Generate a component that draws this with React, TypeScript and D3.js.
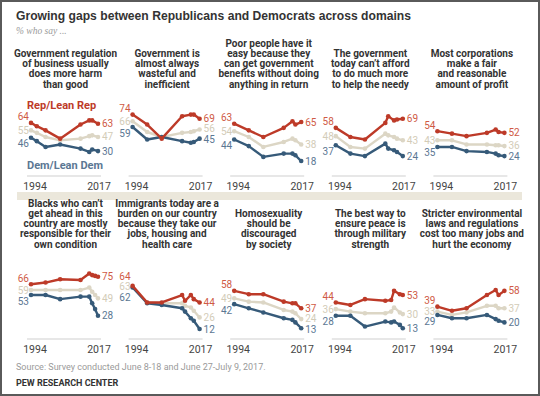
import * as d3 from "d3";

// panel titles, row by row
const panelTitles: string[][] = [
  ["Government regulation", "of business usually", "does more harm", "than good"],
  ["Government is", "almost always", "wasteful and", "inefficient"],
  ["Poor people have it", "easy because they", "can get government", "benefits without doing", "anything in return"],
  ["The government", "today can\u2019t afford", "to do much more", "to help the needy"],
  ["Most corporations", "make a fair", "and reasonable", "amount of profit"],
  ["Blacks who can\u2019t", "get ahead in this", "country are mostly", "responsible for their", "own condition"],
  ["Immigrants today are a", "burden on our country", "because they take our", "jobs, housing and", "health care"],
  ["Homosexuality", "should be", "discouraged", "by society"],
  ["The best way to", "ensure peace is", "through military", "strength"],
  ["Stricter environmental", "laws and regulations", "cost too many jobs and", "hurt the economy"],
];

const panelYears: number[][] = [
  [1994, 1996, 1999, 2004, 2011, 2014, 2015, 2017],
  [1994, 1999, 2004, 2011, 2014, 2015, 2017],
  [1994, 1999, 2004, 2011, 2014, 2015, 2017],
  [1994, 1999, 2004, 2011, 2012, 2014, 2015, 2017],
  [1994, 1999, 2004, 2011, 2014, 2015, 2017],
  [1994, 1999, 2004, 2011, 2014, 2015, 2016, 2017],
  [1994, 1999, 2004, 2011, 2012, 2014, 2015, 2017],
  [1994, 1999, 2004, 2011, 2014, 2015, 2017],
  [1994, 1999, 2004, 2011, 2013, 2014, 2016, 2017],
  [1994, 1999, 2004, 2011, 2014, 2015, 2017],
];

const repValues: number[][] = [
  [64, 60, 55, 45, 62, 67, 67, 63],
  [74, 62, 45, 72, 74, 74, 69],
  [63, 55, 47, 58, 66, 62, 65],
  [58, 47, 44, 64, 72, 67, 68, 69],
  [54, 51, 48, 52, 56, 53, 52],
  [66, 68, 72, 71, 79, 77, 76, 75],
  [64, 44, 44, 53, 46, 53, 48, 44],
  [58, 54, 54, 45, 43, 43, 37],
  [44, 41, 48, 46, 47, 58, 54, 53],
  [39, 34, 37, 53, 59, 53, 58],
];

const demValues: number[][] = [
  [46, 42, 35, 38, 33, 29, 32, 30],
  [59, 44, 47, 42, 40, 41, 45],
  [44, 36, 23, 27, 27, 25, 18],
  [37, 27, 24, 39, 33, 31, 29, 24],
  [35, 35, 30, 29, 27, 25, 24],
  [53, 53, 48, 51, 51, 43, 36, 28],
  [62, 43, 41, 37, 33, 25, 22, 12],
  [42, 37, 32, 25, 23, 20, 13],
  [28, 28, 15, 21, 20, 21, 17, 13],
  [29, 25, 25, 29, 24, 22, 20],
];

const totalValues: number[][] = [
  [55, 52, 47, 43, 45, 48, 49, 47],
  [66, 53, 47, 52, 53, 54, 56],
  [54, 47, 35, 41, 45, 43, 38],
  [48, 35, 33, 51, 49, 47, 45, 43],
  [43, 43, 38, 38, 37, 37, 36],
  [59, 59, 59, 59, 62, 57, 53, 49],
  [63, 44, 43, 43, 40, 38, 34, 26],
  [49, 45, 44, 35, 33, 31, 24],
  [36, 33, 31, 31, 33, 38, 32, 30],
  [33, 29, 32, 40, 40, 37, 37],
];

const yearLabels = ["1994", "2017"];

const RED = "#bd3a28";
const BLUE = "#365a79";
const BEIGE = "#dcd6c5";
const RED_TXT = "#cf5a45";
const BLUE_TXT = "#5b7793";
const BEIGE_TXT = "#d3ccb8";

const FONT = "'Liberation Sans Narrow', 'Roboto', 'Liberation Sans', sans-serif";

const colStart = 31;
const colStep = 101.6;
const plotW = 67;
const rowBase = [176, 339];
const titleBottom = [87.5, 247.5];
const labelGap = 10.5;

// push label positions (top to bottom: rep, total, dem) apart
function spread(pos: number[]) {
  const p = pos.slice();
  for (let it = 0; it < 10; it++) {
    for (let k = 0; k < p.length - 1; k++) {
      const d = p[k + 1] - p[k];
      if (d < labelGap) {
        const m = (labelGap - d) / 2;
        p[k] -= m;
        p[k + 1] += m;
      }
    }
  }
  return p;
}

function Panel({ i }: { i: number }) {
  const col = i % 5;
  const row = Math.floor(i / 5);
  const x0 = colStart + colStep * col;
  const x = d3.scaleLinear().domain([1994, 2017]).range([x0, x0 + plotW]);
  const y = d3.scaleLinear().domain([0, 100]).range([rowBase[row], rowBase[row] - 83]);
  const years = panelYears[i];

  // drawing order: total, dem, rep
  const series = [
    { vals: totalValues[i], color: BEIGE, txt: BEIGE_TXT },
    { vals: demValues[i], color: BLUE, txt: BLUE_TXT },
    { vals: repValues[i], color: RED, txt: RED_TXT },
  ];

  const line = d3
    .line<number>()
    .x((_, k) => x(years[k]))
    .y((d) => y(d));

  const first = (v: number[]) => v[0];
  const last = (v: number[]) => v[v.length - 1];

  // label rows: rep, total, dem
  const startPos = spread([
    y(first(repValues[i])) - 6,
    y(first(totalValues[i])),
    y(first(demValues[i])) + 6,
  ]);
  const endPos = spread([
    y(last(repValues[i])),
    y(last(totalValues[i])),
    y(last(demValues[i])),
  ]);
  const labelSeries = [
    { vals: repValues[i], txt: RED_TXT },
    { vals: totalValues[i], txt: BEIGE_TXT },
    { vals: demValues[i], txt: BLUE_TXT },
  ];

  const title = panelTitles[i];
  const tx = x0 + plotW / 2 + 1;
  const lh = 10.1;

  return (
    <g>
      {title.map((t, k) => (
        <text
          key={k}
          x={tx}
          y={titleBottom[row] - (title.length - 1 - k) * lh}
          textAnchor="middle"
          fontSize={10}
          fontWeight="bold"
          fill="#333"
          fontFamily={FONT}
        >
          {t}
        </text>
      ))}

      <line
        x1={x0 - 4}
        x2={x0 + plotW + 3}
        y1={rowBase[row]}
        y2={rowBase[row]}
        stroke="#cfcfcf"
        strokeWidth={1}
      />
      <text x={x(1994) + 4} y={rowBase[row] + 13.5} textAnchor="middle" fontSize={10.5} fill="#444" fontFamily={FONT}>
        {yearLabels[0]}
      </text>
      <text x={x(2017) + 1} y={rowBase[row] + 13.5} textAnchor="middle" fontSize={10.5} fill="#444" fontFamily={FONT}>
        {yearLabels[1]}
      </text>

      {series.map((s, k) => (
        <g key={k}>
          <path d={line(s.vals) ?? ""} fill="none" stroke={s.color} strokeWidth={2.4} strokeLinejoin="round" />
          {s.vals.map((v, j) => (
            <circle key={j} cx={x(years[j])} cy={y(v)} r={2.3} fill={s.color} />
          ))}
        </g>
      ))}

      {labelSeries.map((s, k) => (
        <g key={"l" + k} fontSize={10} fontFamily={FONT} fill={s.txt}>
          <text x={x0 - 2} y={startPos[k]} dy="0.35em" textAnchor="end">
            {first(s.vals)}
          </text>
          <text x={x0 + plotW + 4} y={endPos[k]} dy="0.35em" textAnchor="start">
            {last(s.vals)}
          </text>
        </g>
      ))}
    </g>
  );
}

export default function App() {
  return (
    <svg
      width={540}
      height={396}
      style={{ position: "absolute", left: 0, top: 0, background: "#fff" }}
    >
      <rect x={0} y={0} width={540} height={396} fill="#fff" />
      <rect x={17} y={192} width={505} height={8} fill="#ebe7db" />

      <text x={16} y={20} fontSize={13.5} fontWeight="bold" fill="#333" fontFamily="'Liberation Sans', Arial, sans-serif" textLength={395} lengthAdjust="spacingAndGlyphs">
        Growing gaps between Republicans and Democrats across domains
      </text>
      <text x={16} y={34} fontSize={9.5} fontStyle="italic" fill="#9a9a9a" fontFamily="'Liberation Serif', 'DejaVu Serif', serif">
        % who say ...
      </text>

      {panelTitles.map((_, i) => (
        <Panel key={i} i={i} />
      ))}

      <text x={27} y={109} fontSize={11} fontWeight="bold" fill={RED} fontFamily={FONT}>
        Rep/Lean Rep
      </text>
      <text x={27} y={169} fontSize={11} fontWeight="bold" fill={BLUE_TXT} fontFamily={FONT}>
        Dem/Lean Dem
      </text>

      <text x={16} y={370} fontSize={9} fill="#9a9a9a" fontFamily={FONT}>
        Source: Survey conducted June 8-18 and June 27-July 9, 2017.
      </text>
      <text x={16} y={386} fontSize={9} fontWeight="bold" fill="#333" fontFamily={FONT}>
        PEW RESEARCH CENTER
      </text>

      <rect x={1} y={1} width={538} height={394} fill="none" stroke="#5a5a5a" strokeWidth={2} />
    </svg>
  );
}
